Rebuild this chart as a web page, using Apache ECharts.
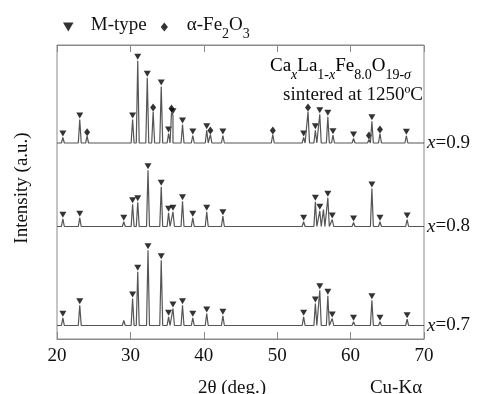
<!DOCTYPE html>
<html><head><meta charset="utf-8">
<script src="https://cdn.jsdelivr.net/npm/echarts@6/dist/echarts.min.js"></script>
<style>html,body{margin:0;padding:0;background:#fff}#c{width:480px;height:394px}</style>
</head><body><div id="c"></div>
<script>
// ---- data (2θ in degrees, intensity in arbitrary units) ----
const xTicks = [20, 30, 40, 50, 60, 70];
const traceLabels = ['0.9', '0.8', '0.7'];
const baselines = [196, 112.5, 13.5];

// x = 0.9
const mType09 = [[20.8,201.5],[23.1,219.5],[30.3,219.5],[31.0,278.2],[32.3,261.2],[34.2,252.5],[35.2,205.5],[35.8,223.8],[37.1,214.5],[38.5,203.5],[40.4,208.8],[42.6,203.5],[53.6,201.5],[55.2,208.8],[55.8,224.8],[56.9,222.2],[57.6,203.8],[60.4,200.5],[62.9,217.8],[67.6,203.2]];
const hem09 = [[24.1,202.8],[33.1,227.5],[35.6,226.5],[40.9,204.5],[49.4,204.5],[54.2,227.5],[62.5,199.5],[64.0,205.5]];
const other09 = [];
// x = 0.8
const mType08 = [[20.8,120.2],[23.1,121.2],[29.1,117.2],[30.3,134.8],[31.0,136.8],[32.4,168.8],[34.2,152.2],[35.2,126.2],[35.8,127.2],[37.1,137.8],[38.5,121.2],[40.4,127.2],[42.6,122.8],[53.6,117.2],[55.2,137.2],[55.8,128.2],[56.9,141.2],[57.5,119.5],[60.4,116.5],[62.9,150.5],[64.0,117.2],[67.7,119.5]];
const other08 = [[56.3,129.5]];
// x = 0.7
const mType07 = [[20.8,21.2],[23.1,33.8],[30.3,40.5],[31.0,67.2],[32.4,88.8],[34.2,78.8],[35.2,22.2],[35.8,30.5],[37.1,33.8],[38.5,21.2],[40.4,25.5],[42.6,23.2],[53.6,22.2],[55.2,35.5],[55.8,48.8],[56.9,43.2],[57.5,20.5],[60.4,17.2],[62.9,38.8],[64.0,17.2],[67.7,19.8]];
const other07 = [[29.1,18.5]];

// ---- build line traces from the peak lists ----
const HW = 0.2;
function buildTrace(base, peaks) {
  const pts = [[20, base], [70, base]];
  peaks.forEach(p => { pts.push([p[0] - HW, base], [p[0], p[1]], [p[0] + HW, base]); });
  pts.sort((a, b) => a[0] - b[0]);
  return pts;
}
const traces = [
  buildTrace(baselines[0], mType09.concat(hem09, other09)),
  buildTrace(baselines[1], mType08.concat(other08)),
  buildTrace(baselines[2], mType07.concat(other07))
];

const FONT = 'Liberation Serif';
const TXT = '#111';
const AX = '#8a8a8a';
const subRich = {
  m: { fontFamily: FONT, fontSize: 19, color: TXT, lineHeight: 22, verticalAlign: 'top' },
  s: { fontFamily: FONT, fontSize: 14, color: TXT, lineHeight: 14, padding: [11, 0, 0, 0], verticalAlign: 'top' },
  si: { fontFamily: FONT, fontSize: 14, color: TXT, fontStyle: 'italic', lineHeight: 14, padding: [11, 0, 0, 0], verticalAlign: 'top' }
};

const chart = echarts.init(document.getElementById('c'));
const lineSeries = traces.map((d, i) => ({
  type: 'line', name: 'x=' + traceLabels[i], data: d, showSymbol: false, symbol: 'none',
  lineStyle: { color: '#555', width: 1.2 }, silent: true,
  endLabel: {
    show: true, distance: 3, formatter: '{i|x}{n|=' + traceLabels[i] + '}',
    rich: {
      i: { fontFamily: FONT, fontSize: 19, fontStyle: 'italic', color: TXT },
      n: { fontFamily: FONT, fontSize: 19, color: TXT }
    }
  }
}));

chart.setOption({
  animation: false,
  grid: { left: 57, right: 56, top: 45, bottom: 55, show: true, borderColor: AX, borderWidth: 1 },
  legend: {
    left: 58, top: 11, itemWidth: 11, itemHeight: 9, itemGap: 14,
    data: [{ name: 'M-type', icon: 'path://M0,0L10,0L5,8.5Z' }, { name: 'α-Fe2O3', icon: 'path://M4,0L8,5L4,10L0,5Z' }],
    textStyle: { fontFamily: FONT, fontSize: 19, color: TXT, padding: [0, 0, 0, 12], rich: subRich },
    formatter: n => n === 'M-type' ? '{m|M-type}' : '{m|α-Fe}{s|2}{m|O}{s|3}'
  },
  xAxis: [
    { type: 'value', min: xTicks[0], max: xTicks[xTicks.length - 1], interval: 10, position: 'bottom',
      axisLine: { show: true, lineStyle: { color: AX } },
      axisTick: { inside: true, length: 7, lineStyle: { color: AX } },
      axisLabel: { fontFamily: FONT, fontSize: 19, color: TXT, margin: 8 },
      splitLine: { show: false } },
    { type: 'value', min: xTicks[0], max: xTicks[xTicks.length - 1], interval: 10, position: 'top',
      axisLine: { show: true, lineStyle: { color: AX } },
      axisTick: { inside: true, length: 7, lineStyle: { color: AX } },
      axisLabel: { show: false }, splitLine: { show: false } }
  ],
  yAxis: { type: 'value', min: 0, max: 294, show: false },
  series: lineSeries.concat([
    { type: 'scatter', name: 'M-type', data: mType09.concat(mType08, mType07),
      symbol: 'triangle', symbolRotate: 180, symbolSize: [7, 6], symbolOffset: [0, -4],
      itemStyle: { color: '#000' }, silent: true },
    { type: 'scatter', name: 'α-Fe2O3', data: hem09,
      symbol: 'diamond', symbolSize: [6, 8], symbolOffset: [0, -4],
      itemStyle: { color: '#000' }, silent: true }
  ]),
  graphic: [
    { type: 'text', x: 270, y: 57, silent: true,
      style: { text: '{m|Ca}{si|x}{m|La}{s|1-}{si|x}{m|Fe}{s|8.0}{m|O}{s|19-}{si|σ}', rich: subRich, textAlign: 'left', textVerticalAlign: 'top' } },
    { type: 'text', x: 423, y: 95, silent: true,
      style: { text: 'sintered at 1250ºC', font: '19px "Liberation Serif"', fill: TXT, textAlign: 'right', textVerticalAlign: 'middle' } },
    { type: 'text', x: 232, y: 388, silent: true,
      style: { text: '2θ (deg.)', font: '19px "Liberation Serif"', fill: TXT, textAlign: 'center', textVerticalAlign: 'middle' } },
    { type: 'text', x: 396, y: 388, silent: true,
      style: { text: 'Cu-Kα', font: '19px "Liberation Serif"', fill: TXT, textAlign: 'center', textVerticalAlign: 'middle' } },
    { type: 'text', x: 22, y: 188, rotation: Math.PI / 2, silent: true,
      style: { text: 'Intensity (a.u.)', font: '19px "Liberation Serif"', fill: TXT, textAlign: 'center', textVerticalAlign: 'middle' } }
  ]
});
</script></body></html>
